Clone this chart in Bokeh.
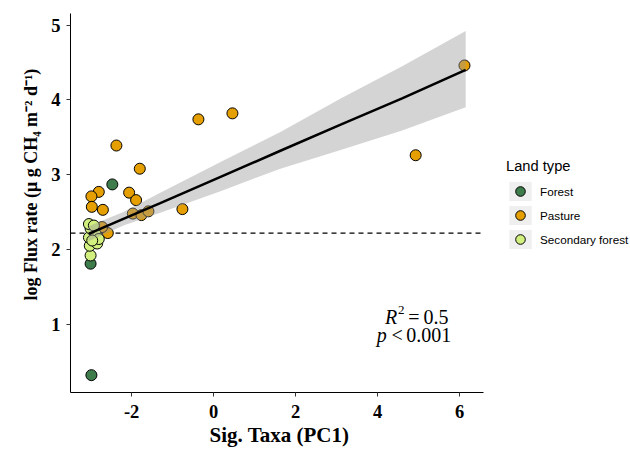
from bokeh.plotting import figure
from bokeh.models import (Range1d, Label, Legend, LegendItem, FixedTicker,
                          Title, ColumnDataSource)
from bokeh.embed import file_html
from bokeh.resources import INLINE

# ---------------- data ----------------
forest_x = [-2.47, -3.00, -2.98]
forest_y = [2.87, 1.81, 0.32]

pasture_x = [6.12, 4.93, 0.46, -0.37, -2.37, -1.80, -0.76, -2.06, -1.89,
             -2.80, -2.98, -2.97, -2.70, -1.97, -1.76, -1.59, -2.58, -2.72]
pasture_y = [4.46, 3.26, 3.82, 3.74, 3.39, 3.08, 2.54, 2.76, 2.66,
             2.77, 2.71, 2.57, 2.53, 2.48, 2.46, 2.51, 2.22, 2.30]

secondary_x = [-3.00, -3.02, -2.84, -3.04, -2.88, -3.00, -3.04, -2.92, -2.80, -2.96]
secondary_y = [1.92, 2.05, 2.08, 2.16, 2.21, 2.28, 2.34, 2.32, 2.14, 2.12]

fit_x = [-3.05, -2.20, -1.30, 0.17, 1.63, 3.10, 4.60, 6.15]
fit_y = [2.21, 2.41, 2.62, 2.97, 3.32, 3.67, 4.02, 4.40]
fit_lower = [2.11, 2.32, 2.49, 2.78, 3.08, 3.33, 3.59, 3.90]
fit_upper = [2.31, 2.50, 2.76, 3.17, 3.57, 4.02, 4.45, 4.92]

baseline_y = 2.22

x_ticks = [-2, 0, 2, 4, 6]
x_tick_labels = ["-2", "0", "2", "4", "6"]
y_ticks = [1, 2, 3, 4, 5]
y_tick_labels = ["1", "2", "3", "4", "5"]

land_types = ["Forest", "Pasture", "Secondary forest"]
colors = ["#3F7C4C", "#E69F00", "#D2F07F"]

x_title = "Sig. Taxa (PC1)"
y_title = "log Flux rate (\u03bc g CH\u2084 m\u207b\u00b2 d\u207b\u00b9)"

# panel limits (ggplot-style 5% expansion) and extra room for the legend
X_LO, X_HI = -3.49, 6.585
Y_LO, Y_HI = 0.088, 5.155
X_CANVAS_HI = 10.17

SERIF = "Liberation Serif"
SANS = "Liberation Sans"

p = figure(width=630, height=452, output_backend="svg", toolbar_location=None,
           x_range=Range1d(X_LO, X_CANVAS_HI), y_range=Range1d(Y_LO, Y_HI),
           min_border_left=70, min_border_right=0,
           min_border_top=13, min_border_bottom=60)
p.outline_line_color = None
p.xgrid.visible = False
p.ygrid.visible = False
p.background_fill_color = "white"
p.border_fill_color = "white"

# axes
for ax in (p.xaxis[0], p.yaxis[0]):
    ax.axis_line_color = "black"
    ax.axis_line_width = 1
    ax.major_tick_line_color = "#333333"
    ax.major_tick_in = 0
    ax.major_tick_out = 4
    ax.minor_tick_line_color = None
    ax.major_label_text_font = SERIF
    ax.major_label_text_font_style = "bold"
    ax.major_label_text_font_size = "18.5px"
    ax.major_label_text_color = "black"

p.xaxis.bounds = (X_LO, X_HI)
p.xaxis.ticker = FixedTicker(ticks=x_ticks)
p.yaxis.ticker = FixedTicker(ticks=y_ticks)
p.xaxis.major_label_overrides = dict(zip(x_ticks, x_tick_labels))
p.yaxis.major_label_overrides = dict(zip(y_ticks, y_tick_labels))
p.xaxis.major_label_standoff = 8
p.yaxis.major_label_standoff = 6

# axis titles (placed as titles so they centre on the data panel)
p.add_layout(Title(text=x_title, align="left", offset=139, standoff=0,
                   text_font=SERIF, text_font_style="bold",
                   text_font_size="21px", text_color="black"), "below")
p.add_layout(Title(text=y_title, align="left", offset=92, standoff=15,
                   text_font=SERIF, text_font_style="bold",
                   text_font_size="18px", text_color="black"), "left")

# dashed reference line across the panel
p.line(x=[X_LO, X_HI], y=[baseline_y, baseline_y], line_color="black",
       line_width=1.2, line_dash="5 4")

# points
renderers = []
for xs, ys, c in [(forest_x, forest_y, colors[0]),
                  (pasture_x, pasture_y, colors[1]),
                  (secondary_x, secondary_y, colors[2])]:
    r = p.scatter(x=xs, y=ys, size=11, fill_color=c, line_color="black",
                  line_width=1)
    renderers.append(r)

# regression band and line
p.varea(x=fit_x, y1=fit_lower, y2=fit_upper, fill_color="#999999",
        fill_alpha=0.42)
p.line(x=fit_x, y=fit_y, line_color="black", line_width=2.5)

# annotation
txt = dict(text_font=SERIF, text_color="black", text_baseline="alphabetic")
FS = "20px"
p.add_layout(Label(x=4.18, y=1.10, text="R", text_font_style="italic",
                   text_font_size=FS, **txt))
p.add_layout(Label(x=4.50, y=1.19, text="2", text_font_size="13px", **txt))
p.add_layout(Label(x=4.75, y=1.10, text="=", text_font_size=FS, **txt))
p.add_layout(Label(x=5.12, y=1.10, text="0.5", text_font_size=FS, **txt))
p.add_layout(Label(x=3.98, y=0.86, text="p", text_font_style="italic",
                   text_font_size=FS, **txt))
p.add_layout(Label(x=4.34, y=0.86, text="<", text_font_size=FS, **txt))
p.add_layout(Label(x=4.70, y=0.86, text="0.001", text_font_size=FS, **txt))

# legend with grey key backgrounds: a zero-size rect that only shows in the legend
bg_src = ColumnDataSource(dict(x=forest_x[:1], y=forest_y[:1]))
bg = p.rect(x="x", y="y", width=0, height=0, source=bg_src,
            fill_color="#EFEFEF", line_color=None)
items = [LegendItem(label=lab, renderers=[bg, r])
         for lab, r in zip(land_types, renderers)]
legend = Legend(items=items, title="Land type", location=(436, 141),
                margin=0, padding=0, spacing=0,
                glyph_width=28, glyph_height=24, label_standoff=6,
                label_text_font=SANS, label_text_font_size="11.7px",
                label_text_color="black",
                title_text_font=SANS, title_text_font_size="14.7px",
                title_text_font_style="normal", title_text_color="black",
                title_standoff=5,
                border_line_color=None, background_fill_alpha=0)
p.add_layout(legend)

open("out.html", "w").write(file_html(p, INLINE))
